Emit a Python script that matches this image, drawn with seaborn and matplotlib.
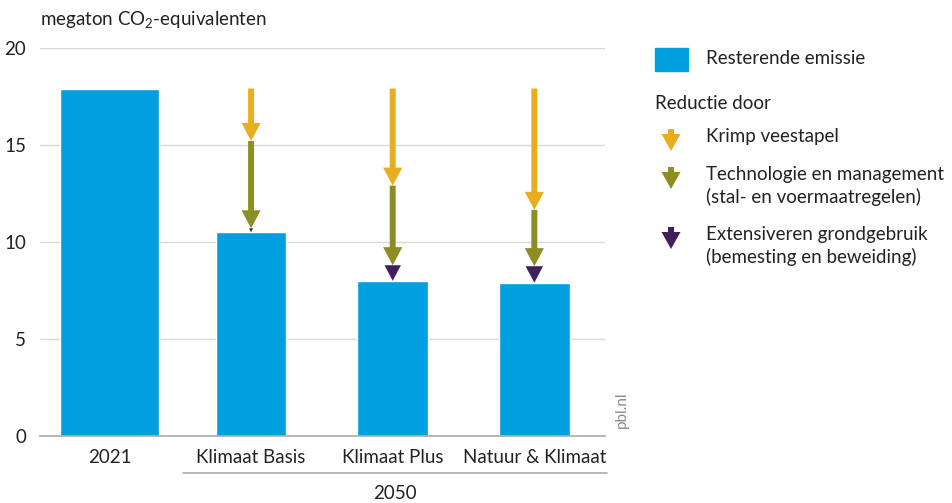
import pandas as pd
import matplotlib.pyplot as plt
import seaborn as sns
from matplotlib.patches import FancyArrow, Rectangle

# --- data ---
scenarios = ['2021', 'Klimaat Basis', 'Klimaat Plus', 'Natuur & Klimaat']
resterend = [17.9, 10.5, 8.0, 7.9]
krimp = [0, 2.7, 5.0, 6.25]
techniek = [0, 4.5, 4.1, 2.9]
extensief = [0, 0.2, 0.8, 0.85]
y_ticks = [0, 5, 10, 15, 20]

BLAUW = '#009fe0'
GEEL = '#e8ae1f'
GROEN = '#8a8e23'
PAARS = '#3f1f5c'
GRIJS = '#d9d9d9'

sns.set_theme(style='white')
plt.rcParams['font.family'] = ['Lato', 'DejaVu Sans']
plt.rcParams['mathtext.fontset'] = 'custom'
plt.rcParams['mathtext.rm'] = 'Lato'
plt.rcParams['mathtext.default'] = 'rm'
FS = 13.5

fig = plt.figure(figsize=(9.53, 5.03), dpi=100)
ax = fig.add_axes([0.042, 0.133, 0.593, 0.772])

df = pd.DataFrame({'scenario': scenarios, 'emissie': resterend})
sns.barplot(data=df.iloc[:1], x='scenario', y='emissie', order=scenarios,
            width=0.7, color=BLAUW, saturation=1, ax=ax, zorder=2)
sns.barplot(data=df.iloc[1:], x='scenario', y='emissie', order=scenarios,
            width=0.5, color=BLAUW, saturation=1, ax=ax, zorder=2)

ax.set_ylim(0, 20)
ax.set_xlim(-0.49, 3.5)
ax.set_yticks(y_ticks)
ax.yaxis.grid(True, color=GRIJS, lw=1)
ax.set_axisbelow(True)
for s in ['top', 'right', 'left']:
    ax.spines[s].set_visible(False)
ax.spines['bottom'].set_color('#aaaaaa')
ax.spines['bottom'].set_linewidth(1.2)
ax.tick_params(axis='both', length=0, labelsize=FS, colors='#222222')
ax.tick_params(axis='x', pad=9)
ax.tick_params(axis='y', pad=10)
ax.set_xlabel('')
ax.set_ylabel('')

# reductie-pijlen
HW, SW, HL = 0.135, 0.042, 0.93


def pijl(x, y0, lengte, kleur, axis=ax):
    if lengte <= 0:
        return
    hl = min(HL, lengte)
    hw = HW * hl / HL
    axis.add_patch(FancyArrow(x, y0, 0, -lengte, width=SW * hl / HL if lengte < HL else SW,
                              head_width=hw, head_length=hl, length_includes_head=True,
                              color=kleur, lw=0, zorder=3))


start = resterend[0]
for i in range(1, len(scenarios)):
    y = start
    for waarde, kleur in [(krimp[i], GEEL), (techniek[i], GROEN), (extensief[i], PAARS)]:
        pijl(i, y, waarde, kleur)
        y -= waarde

ax.text(0, 1.045, 'megaton CO$_2$-equivalenten', transform=ax.transAxes,
        fontsize=FS, ha='left', va='bottom', color='#222222')

# 2050 groepering
tr = ax.get_xaxis_transform()
ax.plot([0.52, 3.51], [-0.095, -0.095], transform=tr, color='#aaaaaa', lw=1.2, clip_on=False)
ax.text(2.015, -0.148, '2050', transform=tr, ha='center', va='center', fontsize=FS, color='#222222')

fig.text(0.653, 0.185, 'pbl.nl', rotation=90, ha='center', va='center', fontsize=11, color='#888888')

# legenda
fig.patches.append(Rectangle((655 / 953, 1 - 71 / 503), 33 / 953, 23 / 503,
                             transform=fig.transFigure, color=BLAUW, figure=fig))
fig.text(706 / 953, 1 - 59 / 503, 'Resterende emissie', fontsize=FS, va='center', color='#222222')
fig.text(655 / 953, 1 - 103 / 503, 'Reductie door', fontsize=FS, va='center', color='#222222')

legenda = [(GEEL, 'Krimp veestapel', 140),
           (GROEN, 'Technologie en management\n(stal- en voermaatregelen)', 178),
           (PAARS, 'Extensiveren grondgebruik\n(bemesting en beweiding)', 238)]
for kleur, label, ypix in legenda:
    top = 1 - (ypix - 11) / 503
    fig.patches.append(FancyArrow(671 / 953, top, 0, -22 / 503, width=6 / 953,
                                  head_width=19 / 953, head_length=17 / 503,
                                  length_includes_head=True, color=kleur, lw=0,
                                  transform=fig.transFigure, figure=fig))
    fig.text(706 / 953, 1 - (ypix - 12) / 503, label, fontsize=FS, va='top',
             color='#222222', linespacing=1.35)

fig.savefig('out.png', dpi=100)
